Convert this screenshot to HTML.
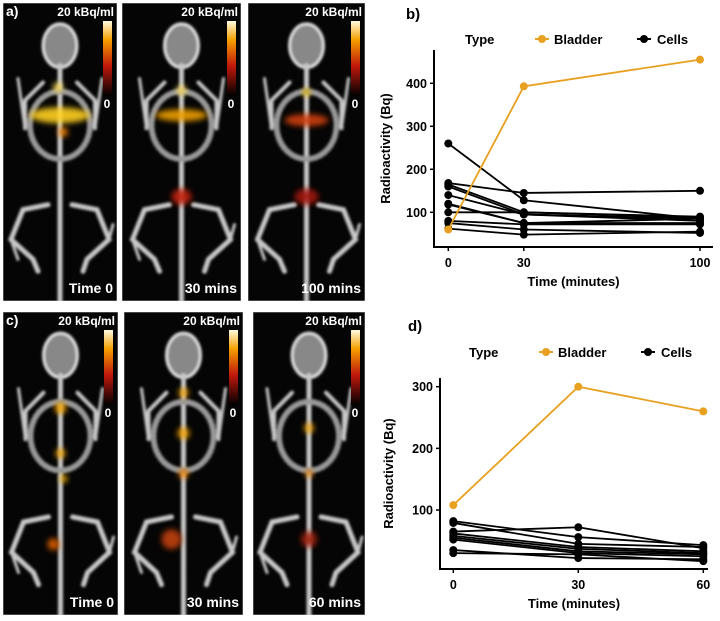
<!DOCTYPE html>
<html><head><meta charset="utf-8">
<style>
body{margin:0;background:#fff;width:720px;height:621px;overflow:hidden;font-family:"Liberation Sans",sans-serif}
#wrap{position:relative;width:720px;height:621px}
svg text{font-family:"Liberation Sans",sans-serif}
</style></head><body>
<div id="wrap">
<svg id="imgs" width="370" height="621" style="position:absolute;left:0;top:0">
<defs>
<filter id="bl" x="-20%" y="-20%" width="140%" height="140%"><feGaussianBlur stdDeviation="1.3"/></filter>
<filter id="bl2" x="-50%" y="-50%" width="200%" height="200%"><feGaussianBlur stdDeviation="3"/></filter>
<linearGradient id="cb" x1="0" y1="1" x2="0" y2="0">
<stop offset="0" stop-color="#000"/><stop offset="0.4" stop-color="#c0180c"/><stop offset="0.75" stop-color="#f5a000"/><stop offset="1" stop-color="#fffbe0"/></linearGradient>
<g id="mouse">
<g filter="url(#bl)" stroke="#c8c8c8" fill="none" stroke-linecap="round">
<ellipse cx="57" cy="35" rx="17" ry="22" fill="#888" stroke="#e0e0e0" stroke-width="3"/>
<line x1="57" y1="55" x2="57" y2="300" stroke-width="5" stroke-dasharray="3 1.5"/>
<ellipse cx="57" cy="115" rx="30" ry="34" stroke="#999" stroke-width="6" stroke-dasharray="2 3"/>
<path d="M40 72 L22 90 L22 118 M74 72 L92 90 L92 118" stroke-width="4"/>
<path d="M22 118 L15 68 M92 118 L99 68" stroke-width="3"/>
<path d="M45 195 L20 200 L8 230 L30 250 L35 262 M69 195 L94 200 L106 230 L84 250 L80 262" stroke-width="5"/>
<path d="M8 230 L15 250 M106 230 L110 215" stroke-width="3"/>
</g>
</g>
</defs>
<g id="panels"></g>
</svg>
<svg id="charts" width="350" height="621" viewBox="370 0 350 621" style="position:absolute;left:370px;top:0"></svg>
</div>
<script>
const panels=[
 {x:3,y:3,w:114,h:298,lab:"Time 0",tag:"a)",blobs:[[57,113,30,8,"#ffd020"],[55,85,5,5,"#ffe060"],[60,130,5,5,"#f08000"]]},
 {x:122,y:3,w:119,h:298,lab:"30 mins",tag:"",blobs:[[57,113,26,6,"#f0a000"],[57,88,5,5,"#ffe060"],[57,195,10,8,"#c02010"]]},
 {x:248,y:3,w:117,h:298,lab:"100 mins",tag:"",blobs:[[57,118,22,6,"#d04010"],[57,90,4,4,"#f0c000"],[57,195,12,8,"#a01810"]]},
 {x:3,y:312,w:115,h:303,lab:"Time 0",tag:"c)",blobs:[[57,95,6,6,"#f0a000"],[57,140,5,5,"#f0a000"],[60,165,4,4,"#f0b000"],[50,230,6,6,"#e06000"]]},
 {x:124,y:312,w:119,h:303,lab:"30 mins",tag:"",blobs:[[57,80,5,5,"#f0a000"],[57,120,6,6,"#f0a000"],[57,160,5,5,"#f08000"],[45,225,10,10,"#c04010"]]},
 {x:253,y:312,w:112,h:303,lab:"60 mins",tag:"",blobs:[[57,115,5,5,"#f0a000"],[57,160,4,4,"#f08000"],[57,225,8,8,"#a02010"]]}
];
const NS="http://www.w3.org/2000/svg";
const pg=document.getElementById('panels');
const defs=document.querySelector('#imgs defs');
function mk(t,a,p){const e=document.createElementNS(NS,t);for(const k in a)e.setAttribute(k,a[k]);(p||pg).appendChild(e);return e;}
panels.forEach((p,i)=>{
 const cp=mk('clipPath',{id:'cp'+i},defs);
 mk('rect',{x:0,y:0,width:p.w,height:p.h},cp);
 const g=mk('g',{transform:`translate(${p.x},${p.y})`,'clip-path':`url(#cp${i})`});
 
 
 mk('rect',{x:0,y:0,width:p.w,height:p.h,fill:'#050505',stroke:'#888','stroke-width':1},g);
 const s=p.h/300;
 mk('use',{href:'#mouse',transform:`translate(${(p.w-114)/2},8) scale(1,${s})`},g);
 p.blobs.forEach(b=>mk('ellipse',{cx:b[0]+(p.w-114)/2,cy:b[1]*s,rx:b[2],ry:b[3],fill:b[4],opacity:0.9,filter:'url(#bl2)'},g));
 mk('rect',{x:p.w-14,y:18,width:9,height:75,fill:'url(#cb)'},g);
 let t=mk('text',{x:p.w-3,y:13,'text-anchor':'end','font-size':12,'font-weight':'bold',fill:'#fff'},g);t.textContent='20 kBq/ml';
 t=mk('text',{x:p.w-10,y:105,'text-anchor':'middle','font-size':12,'font-weight':'bold',fill:'#fff'},g);t.textContent='0';
 t=mk('text',{x:p.w-4,y:p.h-8,'text-anchor':'end','font-size':14,'font-weight':'bold',fill:'#fff'},g);t.textContent=p.lab;
 if(p.tag){t=mk('text',{x:3,y:13,'font-size':14,'font-weight':'bold',fill:'#fff'},g);t.textContent=p.tag;}
});
</script>
<script>
// ---- chart b data
const bTimes=[0,30,100];
const bBladder=[60,393,455];
const bCells=[[260,128,85],[168,145,150],[165,100,90],[160,95,85],[140,95,80],[120,75,85],[118,75,75],[100,100,88],[80,72,72],[75,60,52],[62,48,55]];
const bYTicks=[100,200,300,400];
const bXTicks=[0,30,100];
// ---- chart d data
const dTimes=[0,30,60];
const dBladder=[108,300,260];
const dCells=[[82,56,43],[79,45,40],[65,72,38],[62,40,33],[58,37,30],[55,33,28],[52,30,25],[35,22,20],[30,28,17]];
const dYTicks=[100,200,300];
const dXTicks=[0,30,60];

const cs=document.getElementById('charts');
function el(t,a,p){const e=document.createElementNS(NS,t);for(const k in a)e.setAttribute(k,a[k]);(p||cs).appendChild(e);return e;}
function chart(o){
 const g=el('g',{});
 
 
 const X=v=>o.x0+(v-o.xmin)*(o.x1-o.x0)/(o.xmax-o.xmin);
 const Y=v=>o.y0+(v-o.ymin)*(o.y1-o.y0)/(o.ymax-o.ymin);
 let t=el('text',{x:o.tx,y:o.ty,'font-size':15,'font-weight':'bold'},g);t.textContent=o.tag;
 
 const lg=el('g',{},g);
 
 
 t=el('text',{x:o.lx,y:o.ly+5,'font-size':13,'font-weight':'bold'},lg);t.textContent='Type';
 el('line',{x1:o.lx+70,x2:o.lx+84,y1:o.ly,y2:o.ly,stroke:'#e8a020','stroke-width':2},lg);
 el('circle',{cx:o.lx+77,cy:o.ly,r:4,fill:'#e8a020'},lg);
 t=el('text',{x:o.lx+89,y:o.ly+5,'font-size':13,'font-weight':'bold'},lg);t.textContent='Bladder';
 el('line',{x1:o.lx+172,x2:o.lx+186,y1:o.ly,y2:o.ly,stroke:'#000','stroke-width':2},lg);
 el('circle',{cx:o.lx+179,cy:o.ly,r:4,fill:'#000'},lg);
 t=el('text',{x:o.lx+192,y:o.ly+5,'font-size':13,'font-weight':'bold'},lg);t.textContent='Cells';
 const ya=el('line',{x1:o.ax,x2:o.ax,y1:o.top,y2:o.ay,stroke:'#000','stroke-width':2},g);
 
 const xa=el('line',{x1:o.ax-1,x2:o.right,y1:o.ay,y2:o.ay,stroke:'#000','stroke-width':2},g);
 
 o.yt.forEach(v=>{el('line',{x1:o.ax-4,x2:o.ax,y1:Y(v),y2:Y(v),stroke:'#000','stroke-width':1.5},g);
  const tt=el('text',{x:o.ax-7,y:Y(v)+4.5,'text-anchor':'end','font-size':12.5,'font-weight':'bold'},g);tt.textContent=v;
  });
 o.xt.forEach(v=>{el('line',{x1:X(v),x2:X(v),y1:o.ay,y2:o.ay+4,stroke:'#000','stroke-width':1.5},g);
  const tt=el('text',{x:X(v),y:o.ay+20,'text-anchor':'middle','font-size':12.5,'font-weight':'bold'},g);tt.textContent=v;
  });
 t=el('text',{x:(o.ax+o.right)/2,y:o.ay+39,'text-anchor':'middle','font-size':13,'font-weight':'bold'},g);t.textContent='Time (minutes)';
 
 const cy=(o.top+o.ay)/2;
 t=el('text',{x:o.ytx,y:cy,'text-anchor':'middle','font-size':13,'font-weight':'bold',transform:`rotate(-90 ${o.ytx} ${cy})`},g);t.textContent='Radioactivity (Bq)';
 
 function series(vals,col,name){
  const sg=el('g',{},g);
  
  
  el('polyline',{points:vals.map((v,i)=>X(o.times[i])+','+Y(v)).join(' '),fill:'none',stroke:col,'stroke-width':1.8},sg);
  vals.forEach((v,i)=>{const c=el('circle',{cx:X(o.times[i]),cy:Y(v),r:4,fill:col},sg);
   });
 }
 o.cells.forEach((c,i)=>series(c,'#000','cells-line-'+(i+1)));
 series(o.bladder,'#e8a020','bladder-line');
}
chart({name:'chart-b',tag:'b)',tx:406,ty:19,times:bTimes,bladder:bBladder,cells:bCells,yt:bYTicks,xt:bXTicks,
 xmin:0,xmax:100,x0:448.3,x1:700,ymin:100,ymax:400,y0:212.3,y1:83.3,
 ax:434,ay:247,top:50,right:713,lx:465,ly:39,ytx:390});
chart({name:'chart-d',tag:'d)',tx:408,ty:331,times:dTimes,bladder:dBladder,cells:dCells,yt:dYTicks,xt:dXTicks,
 xmin:0,xmax:60,x0:453.3,x1:703.3,ymin:100,ymax:300,y0:510,y1:386.7,
 ax:440,ay:569,top:378,right:708,lx:469,ly:352,ytx:393});
</script>
</body></html>
